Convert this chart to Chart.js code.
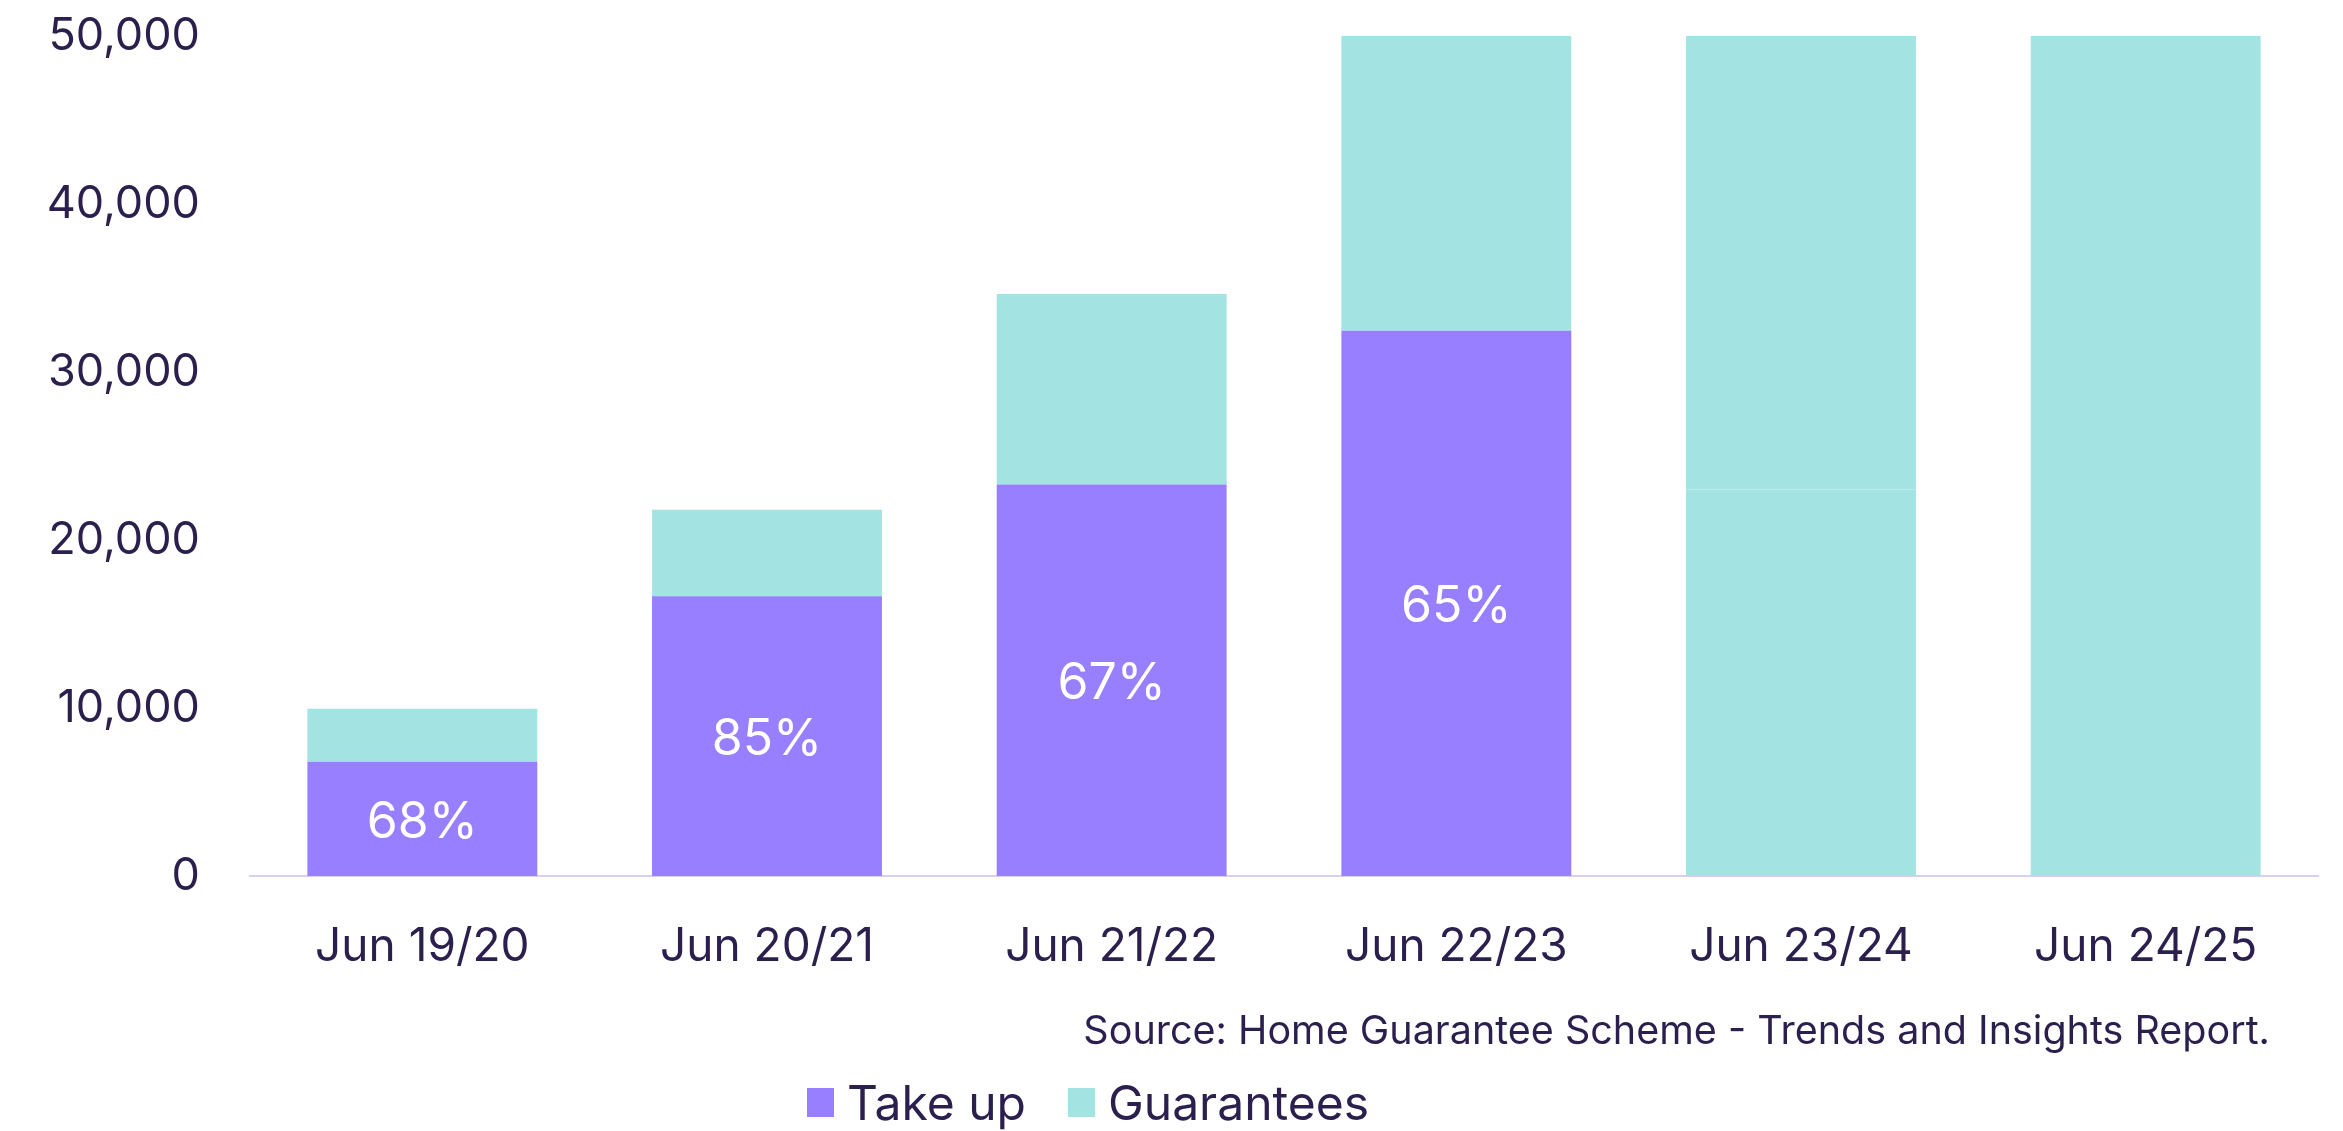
<!DOCTYPE html>
<html>
<head>
<meta charset="utf-8">
<script src="https://cdn.jsdelivr.net/npm/chart.js@4"></script>
<style>
  html, body { margin: 0; padding: 0; background: #fff; }
  #wrap { position: relative; width: 2343px; height: 1131px; }
  #mycanvas { position: absolute; left: 0; top: 0; }
  #source {
    position: absolute; right: 73px; top: 1006px;
    font-family: Inter, sans-serif; font-size: 39.5px; color: #2b1f4d;
  }
  #legend {
    position: absolute; left: 807px; top: 1073px;
    font-family: Inter, sans-serif; font-size: 48px; color: #2b1f4d;
    display: flex; align-items: center;
  }
  #legend span.box { display: inline-block; width: 27px; height: 29px; margin-right: 13px; }
  #legend span.item { display: flex; align-items: center; margin-right: 42px; }
</style>
</head>
<body>
<div id="wrap">
  <canvas id="mycanvas" width="2343" height="1131"></canvas>
  <div id="source">Source: Home Guarantee Scheme - Trends and Insights Report.</div>
  <div id="legend"></div>
</div>
<script>
var categories = ['Jun 19/20', 'Jun 20/21', 'Jun 21/22', 'Jun 22/23', 'Jun 23/24', 'Jun 24/25'];
var takeUp = [6800, 16650, 23300, 32450, 23000, 0];
var guaranteesTotal = [9950, 21800, 34650, 50000, 50000, 50000];
var takeUpLabels = ['68%', '85%', '67%', '65%', '', ''];
var yMax = 50000;
var yStep = 10000;

var purple = '#977fff';
var teal = '#a3e3e2';
var ink = '#2b1f4d';

// guarantees sit on top of take up, so only the remainder is stacked
var guaranteesRest = [];
for (var i in guaranteesTotal) {
    guaranteesRest.push(guaranteesTotal[i] - takeUp[i]);
}

// no take up figure shown for the last years, bar drawn in guarantee colour
var takeUpColours = [];
for (var i in takeUp) {
    takeUpColours.push(takeUpLabels[i] === '' ? teal : purple);
}

var barLabels = {
    id: 'barLabels',
    afterDatasetsDraw: function(chart) {
        var ctx = chart.ctx;
        var meta = chart.getDatasetMeta(0);
        ctx.save();
        ctx.fillStyle = '#ffffff';
        ctx.font = '50px Inter';
        ctx.textAlign = 'center';
        ctx.textBaseline = 'middle';
        meta.data.forEach(function(bar, i) {
            if (!takeUpLabels[i]) return;
            ctx.fillText(takeUpLabels[i], bar.x, (bar.y + bar.base) / 2 + 4);
        });
        ctx.restore();
    }
};

var chartdata = {
    labels: categories,
    datasets: [
        {
            label: 'Take up',
            backgroundColor: takeUpColours,
            data: takeUp
        },
        {
            label: 'Guarantees',
            backgroundColor: teal,
            data: guaranteesRest
        }
    ]
};

Chart.defaults.font.family = 'Inter';
Chart.defaults.color = ink;

var ctx = document.getElementById('mycanvas');
var barGraph = new Chart(ctx, {
    type: 'bar',
    data: chartdata,
    plugins: [barLabels],
    options: {
        responsive: false,
        animation: false,
        layout: { padding: { top: 36, right: 25, bottom: 161, left: 0 } },
        datasets: { bar: { categoryPercentage: 1, barPercentage: 0.667, borderWidth: 0 } },
        plugins: {
            legend: { display: false },
            tooltip: { enabled: false }
        },
        scales: {
            x: {
                stacked: true,
                grid: { display: false, drawTicks: false },
                border: { display: true, color: '#d8d0ee', width: 2 },
                ticks: { padding: 44, font: { size: 46 }, color: ink },
                afterFit: function(scale) { scale.height = 94; }
            },
            y: {
                stacked: true,
                min: 0,
                max: yMax,
                grid: { display: false, drawTicks: false },
                border: { display: false },
                ticks: {
                    stepSize: yStep,
                    padding: 50,
                    font: { size: 45 },
                    color: ink,
                    callback: function(v) { return v.toLocaleString('en-US'); }
                },
                afterFit: function(scale) {
                    scale.width = 250;
                    scale.paddingTop = 0;
                    scale.paddingBottom = 0;
                }
            }
        }
    }
});

var legend = document.getElementById('legend');
chartdata.datasets.forEach(function(ds, i) {
    var colour = i === 0 ? purple : ds.backgroundColor;
    legend.innerHTML += '<span class="item"><span class="box" style="background:' + colour + '"></span>' + ds.label + '</span>';
});
</script>
</body>
</html>
